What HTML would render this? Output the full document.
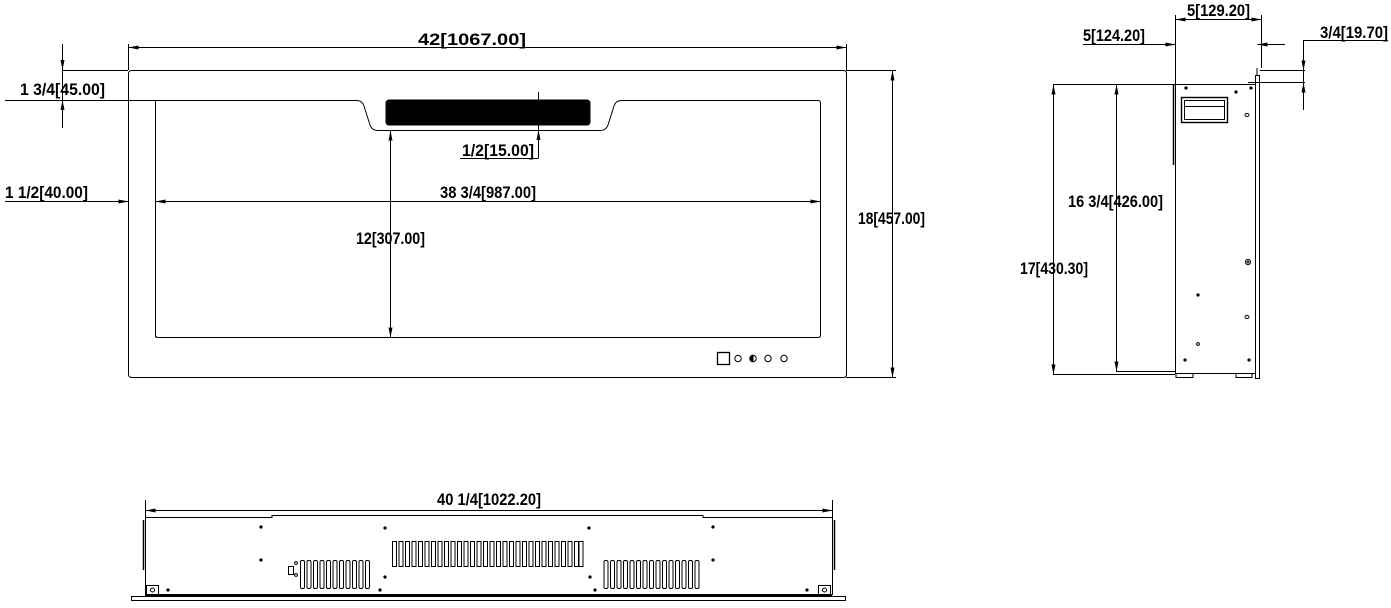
<!DOCTYPE html>
<html><head><meta charset="utf-8"><style>
html,body{margin:0;padding:0;background:#fff;}
svg{display:block}
text{font-family:"Liberation Sans Narrow","Liberation Sans",sans-serif;font-size:17px;font-weight:bold;fill:#000;}
</style></head><body>
<svg width="1391" height="608" viewBox="0 0 1391 608" xmlns="http://www.w3.org/2000/svg">
<defs>
<marker id="a" viewBox="0 0 10 4" refX="10" refY="2" markerWidth="10" markerHeight="4" orient="auto-start-reverse" markerUnits="userSpaceOnUse"><path d="M0,0 L10,2 L0,4z" fill="#000"/></marker>
</defs>
<g stroke="#000" stroke-width="1" fill="none">
<rect x="128.5" y="70.5" width="718" height="307" rx="3"/>
<path d="M155.5,337.5 V100.5 H357 Q362,100.5 364,106 L370,125 Q372,130.5 378,130.5 H600 Q606,130.5 608,125 L614,106 Q616,100.5 621,100.5 H818 Q820.5,100.5 820.5,103 V335 Q820.5,337.5 818,337.5 H158 Q155.5,337.5 155.5,335"/>
<rect x="386" y="100" width="204" height="25" rx="3" fill="#000"/>
<line x1="128.5" y1="47.5" x2="846.5" y2="47.5" marker-start="url(#a)" marker-end="url(#a)"/>
<line x1="128.5" y1="44" x2="128.5" y2="70"/>
<line x1="846.5" y1="44" x2="846.5" y2="70"/>
<line x1="62.5" y1="44" x2="62.5" y2="128"/>
<line x1="62.5" y1="58" x2="62.5" y2="70" marker-end="url(#a)"/>
<line x1="62.5" y1="112" x2="62.5" y2="100" marker-end="url(#a)"/>
<line x1="62.5" y1="70.5" x2="128" y2="70.5"/>
<line x1="62.5" y1="100.5" x2="155" y2="100.5"/>
<line x1="5" y1="100.5" x2="62" y2="100.5"/>
<line x1="846" y1="70.5" x2="896" y2="70.5"/>
<line x1="846" y1="377.5" x2="896" y2="377.5"/>
<line x1="892.5" y1="70.5" x2="892.5" y2="377.5" marker-start="url(#a)" marker-end="url(#a)"/>
<line x1="5" y1="201.5" x2="128" y2="201.5"/>
<line x1="112" y1="201.5" x2="128.5" y2="201.5" marker-end="url(#a)"/>
<line x1="155.5" y1="201.5" x2="820.5" y2="201.5" marker-start="url(#a)" marker-end="url(#a)"/>
<line x1="128.5" y1="168" x2="128.5" y2="210"/>
<line x1="155.5" y1="168" x2="155.5" y2="210"/>
<line x1="390.5" y1="130.5" x2="390.5" y2="337.5" marker-start="url(#a)" marker-end="url(#a)"/>
<line x1="538.5" y1="92" x2="538.5" y2="158"/>
<line x1="538.5" y1="142" x2="538.5" y2="130" marker-end="url(#a)"/>
<line x1="460" y1="158.5" x2="538.5" y2="158.5"/>
<rect x="717.5" y="352.5" width="12" height="12" stroke-width="1.3"/>
<circle cx="738" cy="358.5" r="3.2"/>
<circle cx="753" cy="358.5" r="3.2"/>
<path d="M753,355.3 A3.2,3.2 0 0 0 753,361.7z" fill="#000"/>
<circle cx="768" cy="358.5" r="3.2"/>
<circle cx="784" cy="358.5" r="3.2"/>

<rect x="1175.5" y="84.5" width="80" height="289"/>
<line x1="1173.5" y1="84" x2="1173.5" y2="165" stroke-width="1.5"/>
<rect x="1255.5" y="75.5" width="4" height="303"/>
<line x1="1257" y1="68" x2="1257" y2="75"/>
<rect x="1176" y="373.5" width="17" height="4"/>
<rect x="1236" y="373.5" width="16" height="4"/>
<rect x="1181.5" y="97.5" width="46" height="25" stroke-width="1.4"/>
<rect x="1184.5" y="100.5" width="40" height="19"/>
<line x1="1185" y1="106.5" x2="1224" y2="106.5"/>
<g fill="#000" stroke="none">
<circle cx="1186" cy="88" r="1.6"/><circle cx="1236" cy="92" r="1.6"/><circle cx="1251" cy="88" r="1.6"/>
<circle cx="1198" cy="295" r="1.6"/><circle cx="1185" cy="360" r="1.6"/><circle cx="1249" cy="360" r="1.6"/>
</g>
<ellipse cx="1247" cy="115" rx="2" ry="1.6"/>
<circle cx="1248" cy="262" r="2.6"/><circle cx="1248" cy="262" r="1"/>
<ellipse cx="1247" cy="317" rx="2" ry="1.6"/>
<circle cx="1198" cy="344" r="1.4"/>
<line x1="1175.5" y1="15" x2="1175.5" y2="84"/>
<line x1="1261.5" y1="15" x2="1261.5" y2="68"/>
<line x1="1175.5" y1="19.5" x2="1261.5" y2="19.5" marker-start="url(#a)" marker-end="url(#a)"/>
<line x1="1083" y1="44.5" x2="1175.5" y2="44.5"/>
<line x1="1160" y1="44.5" x2="1175.5" y2="44.5" marker-end="url(#a)"/>
<line x1="1257.5" y1="44.5" x2="1285" y2="44.5"/>
<line x1="1273" y1="44.5" x2="1257.5" y2="44.5" marker-end="url(#a)"/>
<line x1="1260" y1="70.5" x2="1305" y2="70.5"/>
<line x1="1248" y1="82.5" x2="1305" y2="82.5"/>
<line x1="1303.5" y1="40" x2="1303.5" y2="110"/>
<line x1="1303.5" y1="58" x2="1303.5" y2="70.5" marker-end="url(#a)"/>
<line x1="1303.5" y1="95" x2="1303.5" y2="82.5" marker-end="url(#a)"/>
<line x1="1303.5" y1="40.5" x2="1388" y2="40.5"/>
<line x1="1053" y1="84.5" x2="1175" y2="84.5"/>
<line x1="1053" y1="374.5" x2="1175" y2="374.5"/>
<line x1="1053.5" y1="84.5" x2="1053.5" y2="374.5" marker-start="url(#a)" marker-end="url(#a)"/>
<line x1="1116.5" y1="84.5" x2="1116.5" y2="371.5" marker-start="url(#a)" marker-end="url(#a)"/>
<line x1="1116" y1="371.5" x2="1175" y2="371.5"/>

<line x1="145.5" y1="510.5" x2="832.5" y2="510.5" marker-start="url(#a)" marker-end="url(#a)"/>
<line x1="145.5" y1="500" x2="145.5" y2="517"/>
<line x1="832.5" y1="500" x2="832.5" y2="517"/>
<path d="M145.5,595 V517.5 H272 V515.5 H703 V517.5 H832.5 V595"/>
<line x1="143.5" y1="520" x2="143.5" y2="570" stroke-width="1.5"/>
<line x1="834.5" y1="520" x2="834.5" y2="570" stroke-width="1.5"/>
<line x1="145" y1="595" x2="832" y2="595" stroke-width="2"/>
<rect x="131.5" y="596.5" width="714" height="4"/>
<rect x="146.5" y="585.5" width="12" height="9"/>
<circle cx="152.5" cy="590" r="2"/>
<rect x="818.5" y="585.5" width="12" height="9"/>
<circle cx="824.5" cy="590" r="2"/>
<g fill="#000" stroke="none">
<circle cx="261" cy="527" r="1.6"/><circle cx="261" cy="560" r="1.6"/>
<circle cx="385" cy="528" r="1.6"/><circle cx="385" cy="577" r="1.6"/>
<circle cx="168" cy="590" r="1.6"/><circle cx="380" cy="590" r="1.6"/>
<circle cx="589" cy="528" r="1.6"/><circle cx="713" cy="527" r="1.6"/>
<circle cx="713" cy="560" r="1.6"/><circle cx="590" cy="577" r="1.6"/>
<circle cx="595" cy="590" r="1.6"/><circle cx="807" cy="590" r="1.6"/>
</g>
<rect x="288.5" y="566.5" width="5" height="8"/>
<circle cx="296" cy="563" r="1.4"/><circle cx="296" cy="575" r="1.4"/>
<g id="lv">
<rect x="300.5" y="560.5" width="4" height="28" rx="1.5"/><rect x="307" y="560.5" width="4" height="28" rx="1.5"/>
<rect x="313.5" y="560.5" width="4" height="28" rx="1.5"/><rect x="320" y="560.5" width="4" height="28" rx="1.5"/>
<rect x="326.5" y="560.5" width="4" height="28" rx="1.5"/><rect x="333" y="560.5" width="4" height="28" rx="1.5"/>
<rect x="339.5" y="560.5" width="4" height="28" rx="1.5"/><rect x="346" y="560.5" width="4" height="28" rx="1.5"/>
<rect x="352.5" y="560.5" width="4" height="28" rx="1.5"/><rect x="359" y="560.5" width="4" height="28" rx="1.5"/>
<rect x="365.5" y="560.5" width="4" height="28" rx="1.5"/>
</g>
<use href="#lv" x="303.5"/>
<rect x="675.5" y="560.5" width="4" height="28" rx="1.5"/>
<rect x="682" y="560.5" width="4" height="28" rx="1.5"/>
<rect x="688.5" y="560.5" width="4" height="28" rx="1.5"/>
<rect x="695" y="560.5" width="4" height="28" rx="1.5"/>
<g>
<rect x="392.5" y="541.5" width="4" height="25"/><rect x="399" y="541.5" width="4" height="25"/><rect x="405.5" y="541.5" width="4" height="25"/><rect x="412" y="541.5" width="4" height="25"/><rect x="418.5" y="541.5" width="4" height="25"/><rect x="425" y="541.5" width="4" height="25"/><rect x="431.5" y="541.5" width="4" height="25"/><rect x="438" y="541.5" width="4" height="25"/><rect x="444.5" y="541.5" width="4" height="25"/><rect x="451" y="541.5" width="4" height="25"/><rect x="457.5" y="541.5" width="4" height="25"/><rect x="464" y="541.5" width="4" height="25"/><rect x="470.5" y="541.5" width="4" height="25"/><rect x="477" y="541.5" width="4" height="25"/><rect x="483.5" y="541.5" width="4" height="25"/><rect x="490" y="541.5" width="4" height="25"/><rect x="496.5" y="541.5" width="4" height="25"/><rect x="503" y="541.5" width="4" height="25"/><rect x="509.5" y="541.5" width="4" height="25"/><rect x="516" y="541.5" width="4" height="25"/><rect x="522.5" y="541.5" width="4" height="25"/><rect x="529" y="541.5" width="4" height="25"/><rect x="535.5" y="541.5" width="4" height="25"/><rect x="542" y="541.5" width="4" height="25"/><rect x="548.5" y="541.5" width="4" height="25"/><rect x="555" y="541.5" width="4" height="25"/><rect x="561.5" y="541.5" width="4" height="25"/><rect x="568" y="541.5" width="4" height="25"/><rect x="574.5" y="541.5" width="4" height="25"/><rect x="579" y="541.5" width="4" height="25"/>
</g>
</g>
<g>
<text x="418" y="45" textLength="108" lengthAdjust="spacingAndGlyphs">42[1067.00]</text>
<text x="20" y="95" textLength="85" lengthAdjust="spacingAndGlyphs">1 3/4[45.00]</text>
<text x="462" y="156" textLength="72" lengthAdjust="spacingAndGlyphs">1/2[15.00]</text>
<text x="5" y="198" textLength="83" lengthAdjust="spacingAndGlyphs">1 1/2[40.00]</text>
<text x="440" y="198" textLength="96" lengthAdjust="spacingAndGlyphs">38 3/4[987.00]</text>
<text x="356" y="244" textLength="69" lengthAdjust="spacingAndGlyphs">12[307.00]</text>
<text x="858" y="224" textLength="67" lengthAdjust="spacingAndGlyphs">18[457.00]</text>
<text x="1187" y="16" textLength="63" lengthAdjust="spacingAndGlyphs">5[129.20]</text>
<text x="1083" y="41" textLength="62" lengthAdjust="spacingAndGlyphs">5[124.20]</text>
<text x="1320" y="38" textLength="68" lengthAdjust="spacingAndGlyphs">3/4[19.70]</text>
<text x="1068" y="207" textLength="95" lengthAdjust="spacingAndGlyphs">16 3/4[426.00]</text>
<text x="1020" y="274" textLength="68" lengthAdjust="spacingAndGlyphs">17[430.30]</text>
<text x="437" y="505" textLength="104" lengthAdjust="spacingAndGlyphs">40 1/4[1022.20]</text>
</g>
</svg>
</body></html>
